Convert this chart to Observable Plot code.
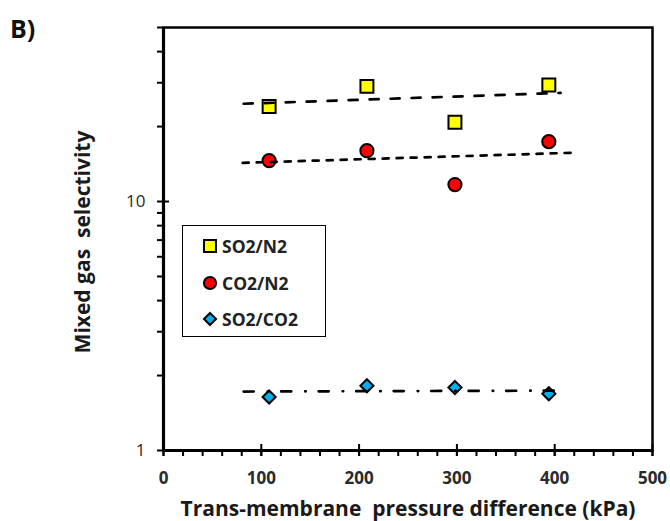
<!DOCTYPE html>
<html><head><meta charset="utf-8">
<script src="https://cdn.jsdelivr.net/npm/d3@7"></script>
<script src="https://cdn.jsdelivr.net/npm/@observablehq/plot@0.6"></script>
<style>
body{margin:0;background:#fff;}
#wrap{position:relative;width:670px;height:521px;font-family:"Open Sans",sans-serif;overflow:hidden;}
#panel{position:absolute;left:10px;top:13px;font-weight:bold;font-size:25px;line-height:30px;color:#111;}
#legend{position:absolute;left:182px;top:225px;width:144px;height:112px;border:1px solid #000;box-sizing:border-box;background:#fff;}
.row{position:absolute;left:0;height:20px;display:flex;align-items:center;}
.row svg{margin-left:20px;margin-right:5px;overflow:visible;}
.row span{font-weight:bold;font-size:17.5px;color:#222;}
</style></head><body>
<div id="wrap"><div id="panel">B)</div></div>
<script>
// ---- data ----
const seriesNames = ["SO2/N2", "CO2/N2", "SO2/CO2"];
const pressure = [108, 208, 298, 394];           // kPa
const so2n2 = [24.1, 29.0, 20.8, 29.4];
const co2n2 = [14.6, 16.0, 11.7, 17.4];
const so2co2 = [1.64, 1.82, 1.79, 1.69];
// trend lines (end points)
const so2n2TrendX = [82, 406], so2n2TrendY = [24.7, 27.3];
const co2n2TrendX = [81, 419], co2n2TrendY = [14.3, 15.7];
const so2co2TrendX = [82, 413], so2co2TrendY = [1.725, 1.74];
// axis ticks
const xMajor = [0, 100, 200, 300, 400, 500];
const xMinor = d3.range(0, 501, 20);
const yMajor = [1, 10];
const yMinor = [2, 3, 4, 5, 6, 7, 8, 9, 20, 30, 40, 50];
const xTitle = "Trans-membrane\u00a0 pressure difference (kPa)";
const yTitle = "Mixed gas\u00a0 selectivity";

// ---- styles ----
const styles = {
  "SO2/N2": {symbol: "square", fill: "#FFFF00", r: 7.3, dash: "9,12"},
  "CO2/N2": {symbol: "circle", fill: "#FF0000", r: 6.6, dash: "6,8"},
  "SO2/CO2": {symbol: "diamond2", fill: "#00B0F0", r: 5.9, dash: "10,14,0.5,13"}
};

const values = [so2n2, co2n2, so2co2];
const trends = [[so2n2TrendX, so2n2TrendY], [co2n2TrendX, co2n2TrendY], [so2co2TrendX, so2co2TrendY]];

const pointMarks = seriesNames.map((name, k) => Plot.dot(
  pressure.map((x, i) => ({x, y: values[k][i]})),
  {x: "x", y: "y", symbol: () => styles[name].symbol, r: styles[name].r,
   fill: styles[name].fill, stroke: "#000", strokeWidth: 2}));
const lineMarks = seriesNames.map((name, k) => Plot.line(
  trends[k][0].map((x, i) => ({x, y: trends[k][1][i]})),
  {x: "x", y: "y", stroke: "#000", strokeWidth: 2.7, strokeDasharray: styles[name].dash,
   strokeLinecap: "round"}));

const chart = Plot.plot({
  width: 670, height: 521,
  marginLeft: 163, marginRight: 18, marginTop: 27, marginBottom: 71,
  x: {domain: [0, 500]},
  y: {type: "log", domain: [1, 50]},
  symbol: {type: "identity"},
  style: {fontFamily: "'Open Sans', sans-serif", color: "#333", background: "transparent", overflow: "visible"},
  marks: [
    Plot.frame({stroke: "#000", strokeWidth: 2.5}),
    Plot.ruleX([0], {stroke: "#000", strokeWidth: 3.2}),
    Plot.ruleY([1], {stroke: "#000", strokeWidth: 3.2}),
    // x ticks
    Plot.axisX({ticks: xMinor, tickSize: 6, tickFormat: () => "", stroke: "#000", strokeWidth: 2, label: null}),
    Plot.axisX({ticks: xMajor, tickSize: 12, dy: -6, tickFormat: () => "", stroke: "#000", strokeWidth: 2, label: null}),
    Plot.axisX({ticks: xMajor, tickSize: 0, tickPadding: 21, tickFormat: d => String(d), fontSize: 17, fontWeight: "bold", fill: "#2a2a2a", label: null}),
    // y ticks
    Plot.axisY({ticks: yMinor, tickSize: 6, tickFormat: () => "", stroke: "#000", strokeWidth: 2, label: null}),
    Plot.axisY({ticks: yMajor, tickSize: 12, dx: 6, tickFormat: () => "", stroke: "#000", strokeWidth: 2, label: null}),
    Plot.axisY({ticks: yMajor, tickSize: 0, tickPadding: 18, tickFormat: d => String(d), fontSize: 17, fill: "#2a2a2a", label: null}),
    // titles
    Plot.text([xTitle], {frameAnchor: "bottom", text: d => d, dy: 59, lineAnchor: "middle", textAnchor: "middle", fontSize: 21, fontWeight: "bold", fill: "#1a1a1a"}),
    Plot.text([yTitle], {frameAnchor: "left", text: d => d, dx: -80, dy: 3, textAnchor: "middle", lineAnchor: "middle", rotate: -90, fontSize: 21, fontWeight: "bold", fill: "#1a1a1a"}),
    ...pointMarks,
    ...lineMarks
  ]
});
const wrap = document.getElementById("wrap");
chart.style.position = "absolute";
chart.style.left = "0px";
chart.style.top = "0px";
wrap.insertBefore(chart, wrap.firstChild);

// legend
const legend = document.createElement("div");
legend.id = "legend";
const rowY = [10, 47, 83];
seriesNames.forEach((name, k) => {
  const st = styles[name];
  const row = document.createElement("div");
  row.className = "row";
  row.style.top = rowY[k] + "px";
  const sym = {square: d3.symbolSquare, circle: d3.symbolCircle, diamond2: d3.symbolDiamond2}[st.symbol];
  const size = Math.PI * st.r * st.r * 0.85;
  row.innerHTML = `<svg width="14" height="14" viewBox="-7 -7 14 14"><path d="${d3.symbol(sym, size)()}" fill="${st.fill}" stroke="#000" stroke-width="2"/></svg><span>${name}</span>`;
  legend.appendChild(row);
});
wrap.appendChild(legend);
</script>
</body></html>
